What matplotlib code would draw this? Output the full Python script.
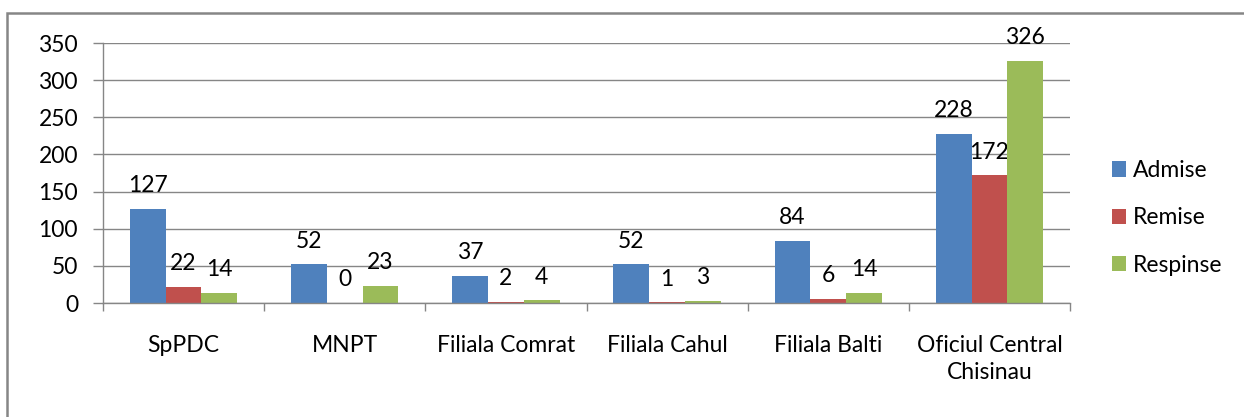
import numpy as np
import matplotlib.pyplot as plt
from matplotlib.patches import Rectangle

# .................................................. data
categories = ['SpPDC', 'MNPT', 'Filiala Comrat', 'Filiala Cahul',
              'Filiala Balti', 'Oficiul Central\nChisinau']
admise = [127, 52, 37, 52, 84, 228]
remise = [22, 0, 2, 1, 6, 172]
respinse = [14, 23, 4, 3, 14, 326]
series = ['Admise', 'Remise', 'Respinse']
colors = ['#4F81BD', '#C0504D', '#9BBB59']
yticks = [0, 50, 100, 150, 200, 250, 300, 350]

plt.rcParams['font.family'] = ['Lato', 'DejaVu Sans']
grey = '#868686'
fs = 16.5

fig = plt.figure(figsize=(12.44, 4.17), dpi=100)
ax = fig.add_axes([103/1244, 114/417, 967/1244, 260/417])

x = np.arange(len(categories))
w = 1/4.5
for k, (vals, name, col) in enumerate(zip([admise, remise, respinse], series, colors)):
  pos = x + (k-1)*w
  ax.bar(pos, vals, w, color=col, label=name, zorder=3)
  for p, v in zip(pos, vals):
    ax.annotate(str(v), (p, v), xytext=(0, 9), textcoords='offset points',
                ha='center', va='bottom', fontsize=fs)

ax.set_xlim(-0.5, 5.5)
ax.set_ylim(0, 350)
ax.set_yticks(yticks)
ax.tick_params(axis='y', labelsize=fs, length=7, width=1, color=grey, pad=11)
ax.set_xticks(x)
ax.set_xticklabels(categories, fontsize=fs, linespacing=1.36)
ax.set_xticks(np.arange(-0.5, 6, 1), minor=True)
ax.tick_params(axis='x', which='major', length=0, pad=23)
ax.tick_params(axis='x', which='minor', length=6, width=1, color=grey)
ax.grid(axis='y', color=grey, linewidth=1, zorder=0)
for s in ['top', 'right']:
  ax.spines[s].set_visible(False)
for s in ['left', 'bottom']:
  ax.spines[s].set_color(grey)
  ax.spines[s].set_linewidth(1)
  ax.spines[s].set_zorder(4)

ax.legend(loc='center left', bbox_to_anchor=(1.043, 0.327), frameon=False,
          fontsize=fs, handlelength=0.65, handleheight=0.65,
          handletextpad=0.3, labelspacing=1.15, borderpad=0, borderaxespad=0)

fig.patches.append(Rectangle((7/1244, -0.1), 1.2, 0.1+404/417,
                             transform=fig.transFigure, fill=False,
                             edgecolor=grey, linewidth=1.8))

plt.savefig('out.png', dpi=100)
